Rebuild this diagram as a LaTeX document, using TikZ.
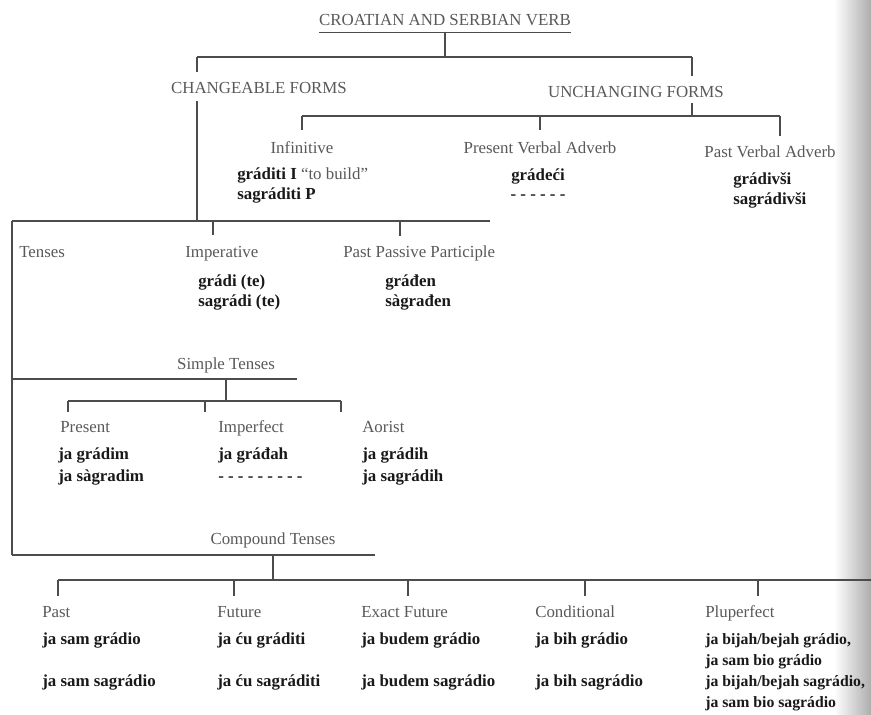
\documentclass[tikz,border=0pt]{standalone}
\usepackage{fontspec}
\setmainfont{Liberation Serif}
\begin{document}
\begin{tikzpicture}[x=0.025cm,y=-0.025cm,
    br/.style={draw=black!70,line width=0.8pt},
    lbl/.style={text=black!65,font=\fontsize{12}{14}\selectfont,inner sep=0pt},
    frm/.style={text=black!90,font=\fontsize{12}{14}\selectfont\bfseries,inner sep=0pt},
    sfrm/.style={frm,font=\fontsize{11.2}{13}\selectfont\bfseries},
    hd/.style={text=black!65,font=\fontsize{12}{14}\selectfont,inner sep=0pt}]

    \useasboundingbox (0,0) rectangle (871,715);

    % Page edge
    \shade[left color=white,right color=black!32] (834,0) rectangle (871,715);

    % Bar points
    \coordinate (T)    at (445,57);
    \coordinate (CH)   at (197,57);
    \coordinate (UN)   at (692,57);
    \coordinate (CHa)  at (197,72);
    \coordinate (UNa)  at (692,76);
    \coordinate (UNb)  at (692,103);
    \coordinate (UNc)  at (692,116);
    \coordinate (INF)  at (302,116);
    \coordinate (INFa) at (302,130);
    \coordinate (PVA)  at (540,116);
    \coordinate (PVAa) at (540,130);
    \coordinate (PTA)  at (780,116);
    \coordinate (PTAa) at (780,136);
    \coordinate (CHb)  at (197,101);
    \coordinate (CHc)  at (197,221);
    \coordinate (TL)   at (12,221);
    \coordinate (TR)   at (490,221);
    \coordinate (IMP)  at (213,221);
    \coordinate (IMPa) at (213,235);
    \coordinate (PPP)  at (400,221);
    \coordinate (PPPa) at (400,236);
    \coordinate (ST)   at (12,379);
    \coordinate (STr)  at (297,379);
    \coordinate (STm)  at (226,379);
    \coordinate (STd)  at (226,401);
    \coordinate (SP)   at (68,401);
    \coordinate (SPa)  at (68,412);
    \coordinate (SI)   at (205,401);
    \coordinate (SIa)  at (205,412);
    \coordinate (SA)   at (341,401);
    \coordinate (SAa)  at (341,412);
    \coordinate (CT)   at (12,555);
    \coordinate (CTr)  at (375,555);
    \coordinate (CTm)  at (273,555);
    \coordinate (CTd)  at (273,580);
    \coordinate (CP)   at (58,580);
    \coordinate (CPa)  at (58,596);
    \coordinate (CF)   at (234,580);
    \coordinate (CFa)  at (234,596);
    \coordinate (CE)   at (408,580);
    \coordinate (CEa)  at (408,596);
    \coordinate (CC)   at (585,580);
    \coordinate (CCa)  at (585,596);
    \coordinate (CL)   at (758,580);
    \coordinate (CLa)  at (758,596);
    \coordinate (CR)   at (871,580);

    % Headings
    \node[hd,anchor=base,inner ysep=4pt] (verb) at (445,26) {CROATIAN AND SERBIAN VERB};
    \node[hd,anchor=base] (chg) at (259,94) {CHANGEABLE FORMS};
    \node[hd,anchor=base] (unc) at (636,98) {UNCHANGING FORMS};

    % Unchanging forms
    \node[lbl,anchor=base] (inf) at (302,154) {Infinitive};
    \node[frm,anchor=base west] (inf1) at (237,180) {gráditi I \mdseries\color{black!65}“to build”};
    \node[frm,anchor=base west] (inf2) at (237,200) {sagráditi P};
    \node[lbl,anchor=base] (pva) at (540,154) {Present Verbal Adverb};
    \node[frm,anchor=base] (pva1) at (538,181) {grádeći};
    \node[frm,anchor=base] (pva2) at (538,200) {- - - - - -};
    \node[lbl,anchor=base] (pta) at (770,158) {Past Verbal Adverb};
    \node[frm,anchor=base west] (pta1) at (733,185) {grádivši};
    \node[frm,anchor=base west] (pta2) at (733,205) {sagrádivši};

    % Changeable forms
    \node[lbl,anchor=base west] (ten) at (19,258) {Tenses};
    \node[lbl,anchor=base west] (imp) at (185,258) {Imperative};
    \node[frm,anchor=base west] (imp1) at (198,287) {grádi (te)};
    \node[frm,anchor=base west] (imp2) at (198,307) {sagrádi (te)};
    \node[lbl,anchor=base west] (ppp) at (343,258) {Past Passive Participle};
    \node[frm,anchor=base west] (ppp1) at (385,287) {gráđen};
    \node[frm,anchor=base west] (ppp2) at (385,307) {sàgrađen};

    % Simple tenses
    \node[lbl,anchor=base] (sim) at (226,370) {Simple Tenses};
    \node[lbl,anchor=base west] (pre) at (60,433) {Present};
    \node[frm,anchor=base west] (pre1) at (58,460) {ja grádim};
    \node[frm,anchor=base west] (pre2) at (58,482) {ja sàgradim};
    \node[lbl,anchor=base west] (ipf) at (218,433) {Imperfect};
    \node[frm,anchor=base west] (ipf1) at (218,460) {ja gráđah};
    \node[frm,anchor=base west] (ipf2) at (218,482) {- - - - - - - - -};
    \node[lbl,anchor=base west] (aor) at (362,433) {Aorist};
    \node[frm,anchor=base west] (aor1) at (362,460) {ja grádih};
    \node[frm,anchor=base west] (aor2) at (362,482) {ja sagrádih};

    % Compound tenses
    \node[lbl,anchor=base] (com) at (273,545) {Compound Tenses};
    \node[lbl,anchor=base west] (pst) at (42,618) {Past};
    \node[frm,anchor=base west] (pst1) at (42,645) {ja sam grádio};
    \node[frm,anchor=base west] (pst2) at (42,687) {ja sam sagrádio};
    \node[lbl,anchor=base west] (fut) at (217,618) {Future};
    \node[frm,anchor=base west] (fut1) at (217,645) {ja ću gráditi};
    \node[frm,anchor=base west] (fut2) at (217,687) {ja ću sagráditi};
    \node[lbl,anchor=base west] (exf) at (361,618) {Exact Future};
    \node[frm,anchor=base west] (exf1) at (361,645) {ja budem grádio};
    \node[frm,anchor=base west] (exf2) at (361,687) {ja budem sagrádio};
    \node[lbl,anchor=base west] (cnd) at (535,618) {Conditional};
    \node[frm,anchor=base west] (cnd1) at (535,645) {ja bih grádio};
    \node[frm,anchor=base west] (cnd2) at (535,687) {ja bih sagrádio};
    \node[lbl,anchor=base west] (plu) at (705,618) {Pluperfect};
    \node[sfrm,anchor=base west] (plu1) at (705,645) {ja bijah/bejah grádio,};
    \node[sfrm,anchor=base west] (plu2) at (705,666) {ja sam bio grádio};
    \node[sfrm,anchor=base west] (plu3) at (705,687) {ja bijah/bejah sagrádio,};
    \node[sfrm,anchor=base west] (plu4) at (705,708) {ja sam bio sagrádio};

    % Top brackets
    \draw[br] (verb.south west) -- (verb.south east);
    \draw[br] (verb.south) -- (T);
    \draw[br] (CH) -- (UN);
    \draw[br] (CH) -- (CHa);
    \draw[br] (UN) -- (UNa);
    \draw[br] (UNb) -- (UNc);
    \draw[br] (INF) -- (PTA);
    \draw[br] (INF) -- (INFa);
    \draw[br] (PVA) -- (PVAa);
    \draw[br] (PTA) -- (PTAa);

    % Changeable forms brackets
    \draw[br] (CHb) -- (CHc);
    \draw[br] (TL) -- (TR);
    \draw[br] (IMP) -- (IMPa);
    \draw[br] (PPP) -- (PPPa);
    \draw[br] (TL) -- (CT);

    % Simple tenses brackets
    \draw[br] (ST) -- (STr);
    \draw[br] (STm) -- (STd);
    \draw[br] (SP) -- (SA);
    \draw[br] (SP) -- (SPa);
    \draw[br] (SI) -- (SIa);
    \draw[br] (SA) -- (SAa);

    % Compound tenses brackets
    \draw[br] (CT) -- (CTr);
    \draw[br] (CTm) -- (CTd);
    \draw[br] (CP) -- (CR);
    \draw[br] (CP) -- (CPa);
    \draw[br] (CF) -- (CFa);
    \draw[br] (CE) -- (CEa);
    \draw[br] (CC) -- (CCa);
    \draw[br] (CL) -- (CLa);
\end{tikzpicture}
\end{document}
